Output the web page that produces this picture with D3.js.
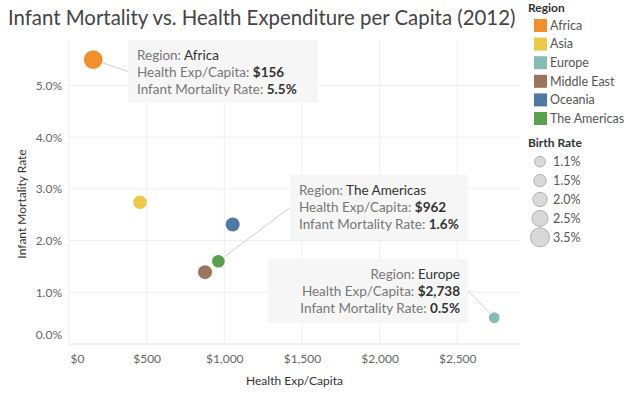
<!DOCTYPE html>
<html>
<head>
<meta charset="utf-8">
<script src="https://cdn.jsdelivr.net/npm/d3@7"></script>
<style>
  body { margin: 0; background: #fff; }
  svg { font-family: Lato, "Open Sans", sans-serif; }
</style>
</head>
<body>
<svg id="chart" width="640" height="399"></svg>
<script>
// data
var regions = ["Africa", "Asia", "Europe", "Middle East", "Oceania", "The Americas"];
var healthExp = [156, 457, 2738, 876, 1054, 962];
var infantMort = [0.055, 0.0274, 0.0051, 0.0139, 0.0231, 0.016];
var birthRate = [3.4, 1.75, 1.1, 1.9, 1.9, 1.55];
var regionColors = ["#f28e2b", "#edc948", "#86bcb6", "#9c755f", "#4e79a7", "#59a14f"];
var xTicks = [0, 500, 1000, 1500, 2000, 2500];
var yTicks = [0, 0.01, 0.02, 0.03, 0.04, 0.05];
var sizeLegend = [1.1, 1.5, 2.0, 2.5, 3.5];

var svg = d3.select("#chart");
var plotLeft = 69, plotRight = 520, plotTop = 40, plotBottom = 344;

var x = d3.scaleLinear().domain([0, 2904]).range([plotLeft, plotRight]);
var y = d3.scaleLinear().domain([0, 0.0588]).range([plotBottom, plotTop]);
var r = d3.scaleSqrt().domain([0, 3.5]).range([0, 9.5]);
var color = d3.scaleOrdinal().domain(regions).range(regionColors);

var points = regions.map(function(d, i) {
    return {region: d, exp: healthExp[i], rate: infantMort[i], birth: birthRate[i]};
});

// title
svg.append("text")
    .attr("x", 8).attr("y", 25)
    .attr("font-size", 20.4)
    .attr("fill", "#444")
    .text("Infant Mortality vs. Health Expenditure per Capita (2012)");

// gridlines
var grid = svg.append("g").attr("class", "grid");
grid.selectAll("line.v")
    .data(xTicks)
    .enter().append("line")
    .attr("x1", function(d) { return x(d); })
    .attr("x2", function(d) { return x(d); })
    .attr("y1", plotTop).attr("y2", plotBottom)
    .attr("stroke", "#efefef");
grid.selectAll("line.h")
    .data(yTicks)
    .enter().append("line")
    .attr("x1", plotLeft).attr("x2", plotRight)
    .attr("y1", function(d) { return y(d); })
    .attr("y2", function(d) { return y(d); })
    .attr("stroke", function(d) { return d === 0 ? "#e4e4e4" : "#efefef"; });

// axes
var xAxis = svg.append("g")
    .attr("transform", "translate(0," + plotBottom + ")")
    .call(d3.axisBottom(x).tickValues(xTicks).tickSize(0).tickPadding(10)
        .tickFormat(function(d) { return "$" + d3.format(",")(d); }));
xAxis.select(".domain").remove();
xAxis.selectAll("text")
    .attr("font-family", "Lato, sans-serif")
    .attr("font-size", 12)
    .attr("fill", "#666")
    .attr("text-anchor", function(d) { return d === 0 ? "start" : "middle"; })
    .attr("dx", function(d) { return d === 0 ? 1 : 0; });

var yAxis = svg.append("g")
    .attr("transform", "translate(" + (plotLeft - 7) + ",0)")
    .call(d3.axisLeft(y).tickValues(yTicks).tickSize(0).tickPadding(0)
        .tickFormat(d3.format(".1%")));
yAxis.select(".domain").remove();
yAxis.selectAll("text")
    .attr("font-family", "Lato, sans-serif")
    .attr("font-size", 12)
    .attr("fill", "#666")
    .attr("dy", function(d) { return d === 0 ? "-0.45em" : "0.32em"; });

svg.append("text")
    .attr("x", (plotLeft + plotRight) / 2).attr("y", 385)
    .attr("text-anchor", "middle")
    .attr("font-size", 12)
    .attr("fill", "#333")
    .text("Health Exp/Capita");

svg.append("text")
    .attr("transform", "translate(26," + ((plotTop + plotBottom) / 2 + 12) + ") rotate(-90)")
    .attr("text-anchor", "middle")
    .attr("font-size", 12)
    .attr("fill", "#333")
    .text("Infant Mortality Rate");

// annotation boxes
var notes = [
    {region: "Africa", bx: 128, by: 40, bw: 190, bh: 63, align: "start"},
    {region: "The Americas", bx: 290, by: 175, bw: 178, bh: 65, align: "start"},
    {region: "Europe", bx: 268, by: 259, bw: 200, bh: 64, align: "end"}
];

var noteG = svg.append("g").attr("class", "notes");
notes.forEach(function(n) {
    var p = points.filter(function(d) { return d.region === n.region; })[0];
    var px = x(p.exp), py = y(p.rate);
    // connector from mark to box edge
    var ex = n.align === "end" ? n.bx + n.bw : n.bx;
    var ey = n.by + n.bh / 2;
    var ang = Math.atan2(ey - py, ex - px);
    noteG.append("line")
        .attr("x1", px + Math.cos(ang) * (r(p.birth) + 1))
        .attr("y1", py + Math.sin(ang) * (r(p.birth) + 1))
        .attr("x2", ex).attr("y2", ey)
        .attr("stroke", "#cfcfcf");
    noteG.append("rect")
        .attr("x", n.bx).attr("y", n.by)
        .attr("width", n.bw).attr("height", n.bh)
        .attr("fill", "#f5f5f5")
        .attr("fill-opacity", 0.95);
    var lines = [
        ["Region: ", p.region],
        ["Health Exp/Capita: ", "$" + d3.format(",")(p.exp)],
        ["Infant Mortality Rate: ", d3.format(".1%")(p.rate)]
    ];
    var tx = n.align === "end" ? n.bx + n.bw - 8 : n.bx + 9;
    lines.forEach(function(l, i) {
        var t = noteG.append("text")
            .attr("x", tx)
            .attr("y", n.by + 15.5 + i * 16.8)
            .attr("dy", "0.35em")
            .attr("text-anchor", n.align)
            .attr("font-size", 13.5);
        t.append("tspan").attr("fill", "#777").text(l[0]);
        t.append("tspan").attr("fill", "#333")
            .attr("font-weight", i === 0 ? "normal" : "bold")
            .text(l[1]);
    });
});

// marks
svg.append("g")
    .attr("class", "marks")
    .selectAll("circle")
    .data(points)
    .enter().append("circle")
    .attr("cx", function(d) { return x(d.exp); })
    .attr("cy", function(d) { return y(d.rate); })
    .attr("r", function(d) { return r(d.birth); })
    .attr("fill", function(d) { return color(d.region); });

// legend: region
var legend = svg.append("g").attr("class", "legend");
legend.append("text")
    .attr("x", 528).attr("y", 8).attr("dy", "0.35em")
    .attr("font-size", 12).attr("font-weight", "bold").attr("fill", "#333")
    .text("Region");
var items = legend.selectAll("g.item")
    .data(regions)
    .enter().append("g")
    .attr("transform", function(d, i) { return "translate(534," + (25.5 + i * 18.6) + ")"; });
items.append("rect")
    .attr("x", 0).attr("y", -6.5)
    .attr("width", 13).attr("height", 13)
    .attr("fill", function(d) { return color(d); });
items.append("text")
    .attr("x", 16).attr("dy", "0.35em")
    .attr("font-size", 12.5).attr("fill", "#555")
    .text(function(d) { return d; });

// legend: birth rate
legend.append("text")
    .attr("x", 528).attr("y", 143).attr("dy", "0.35em")
    .attr("font-size", 12).attr("font-weight", "bold").attr("fill", "#333")
    .text("Birth Rate");
var sizes = legend.selectAll("g.size")
    .data(sizeLegend)
    .enter().append("g")
    .attr("transform", function(d, i) { return "translate(540," + (161.7 + i * 18.9) + ")"; });
sizes.append("circle")
    .attr("r", function(d) { return r(d); })
    .attr("fill", "#d9d9d9")
    .attr("stroke", "#b0b0b0");
sizes.append("text")
    .attr("x", 13).attr("dy", "0.35em")
    .attr("font-size", 12.5).attr("fill", "#555")
    .text(function(d) { return d3.format(".1f")(d) + "%"; });
</script>
</body>
</html>
